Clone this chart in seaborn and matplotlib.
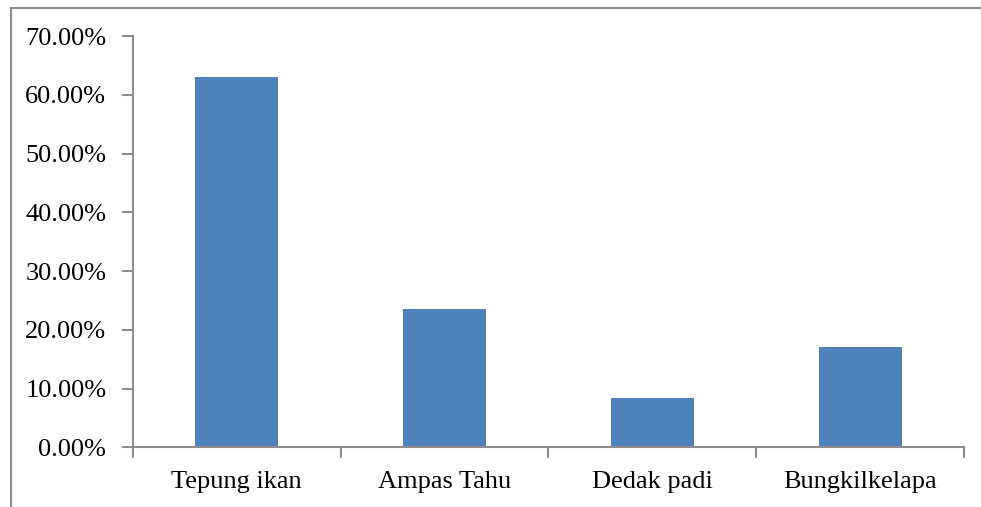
import matplotlib
matplotlib.use("Agg")
import matplotlib.pyplot as plt
from matplotlib.patches import Rectangle
from matplotlib.ticker import FixedLocator, PercentFormatter
import seaborn as sns
import pandas as pd

# Feed ingredient shares
categories = ["Tepung ikan", "Ampas Tahu", "Dedak padi", "Bungkilkelapa"]
shares = [0.630, 0.2355, 0.0845, 0.170]
y_ticks = [0.0, 0.1, 0.2, 0.3, 0.4, 0.5, 0.6, 0.7]

sns.set_theme(style="white")
plt.rcParams["font.family"] = ["Liberation Serif", "DejaVu Serif"]

W, H = 981, 507
fig = plt.figure(figsize=(W / 100, H / 100), dpi=100)
fig.patch.set_facecolor("white")

# outer chart frame (runs off the right and bottom edges)
fig.patches.append(Rectangle((10.5 / W, -0.1), 1.2, 1 - 7.5 / H + 0.1,
                             transform=fig.transFigure, fill=False,
                             edgecolor="#8c8c8c", linewidth=1.5))

ax = fig.add_axes([132.7 / W, 1 - 447.3 / H, (964 - 132.7) / W, (447.3 - 36) / H])

df = pd.DataFrame({"category": categories, "share": shares})
sns.barplot(data=df, x="category", y="share", color="#4F81BD", saturation=1,
            width=0.4, ax=ax, edgecolor="none")

ax.set_xlim(-0.5, len(categories) - 0.5)
ax.set_ylim(0, 0.7)
ax.set_yticks(y_ticks)
ax.yaxis.set_major_formatter(PercentFormatter(1.0, decimals=2))
ax.set_xlabel("")
ax.set_ylabel("")

# boundary ticks between categories, labels centred under each bar
ax.xaxis.set_major_locator(FixedLocator([i - 0.5 for i in range(len(categories) + 1)]))
ax.xaxis.set_minor_locator(FixedLocator(list(range(len(categories)))))
ax.set_xticklabels([])
ax.set_xticklabels(categories, minor=True)
ax.tick_params(axis="x", which="major", direction="out", length=8, width=1.5,
               color="#8c8c8c", bottom=True)
ax.tick_params(axis="x", which="minor", length=0, pad=17, labelsize=19,
               labelcolor="black")
ax.tick_params(axis="y", direction="out", length=8, width=1.5, color="#8c8c8c",
               left=True, pad=11, labelsize=19, labelcolor="black")

for side in ["top", "right"]:
    ax.spines[side].set_visible(False)
for side in ["left", "bottom"]:
    ax.spines[side].set_color("#8c8c8c")
    ax.spines[side].set_linewidth(1.5)

fig.savefig("out.png", dpi=100, facecolor="white")
